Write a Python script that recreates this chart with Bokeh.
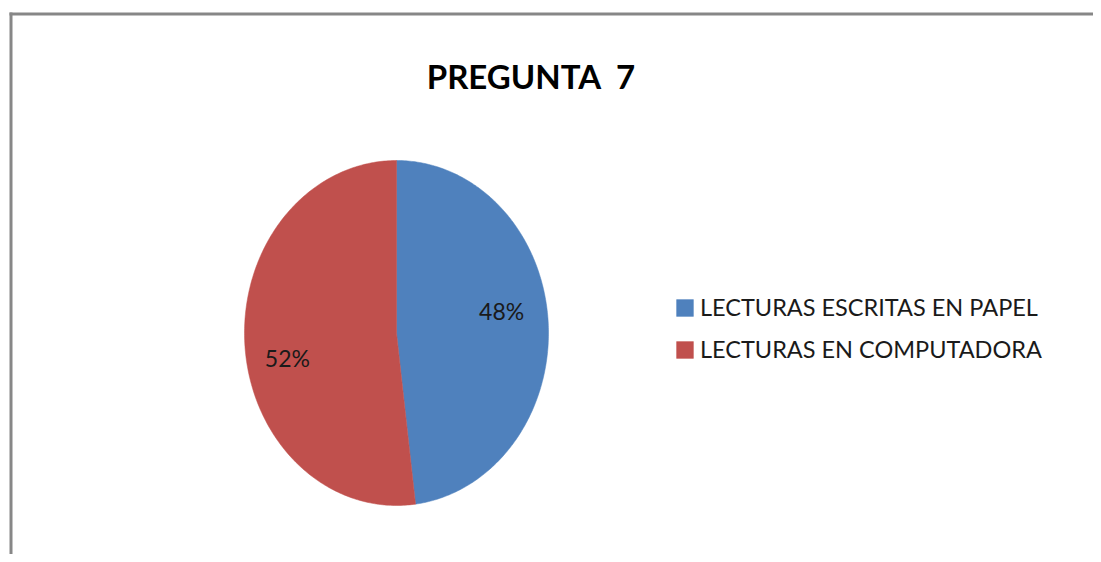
import numpy as np
from bokeh.plotting import figure
from bokeh.models import Range1d, Legend, LegendItem, Label, ColumnDataSource
from bokeh.embed import file_html
from bokeh.resources import INLINE
from bokeh.core.properties import value

# ---- data ----
chart_title = "PREGUNTA \u00a07"
categories = ["LECTURAS ESCRITAS EN PAPEL", "LECTURAS EN COMPUTADORA"]
shares = [48, 52]
slice_colors = ["#4F81BD", "#C0504D"]

# ---- layout / style ----
W, H = 1093, 554
CX, CY, RX, RY = 396, 332.5, 152, 172.5   # pie centre and radii (px)
LABEL_R = 0.68
LABEL_DY = [-15, 18]
LABEL_DX = [2, -6]

p = figure(width=W, height=H, output_backend="svg", toolbar_location=None,
           x_range=Range1d(0, W), y_range=Range1d(H, 0),
           x_axis_location=None, y_axis_location=None, min_border=0)
p.grid.visible = False
p.outline_line_color = None
p.background_fill_color = "white"

# chart frame (top and left edges)
p.line([9, 1110], [13.5, 13.5], line_color="#878787", line_width=3)
p.line([10.5, 10.5], [12, 570], line_color="#878787", line_width=3)

fracs = np.array(shares, dtype=float) / sum(shares)
ends = np.cumsum(fracs) * 2 * np.pi
starts = ends - fracs * 2 * np.pi
xs, ys = [], []
for a0, a1 in zip(starts, ends):
    t = np.linspace(a0, a1, 240)
    xs.append(np.concatenate([[CX], CX + RX * np.sin(t), [CX]]))
    ys.append(np.concatenate([[CY], CY - RY * np.cos(t), [CY]]))

items = []
for i, cat in enumerate(categories):
    src = ColumnDataSource(dict(xs=[xs[i]], ys=[ys[i]]))
    r = p.patches("xs", "ys", source=src, fill_color=slice_colors[i],
                  line_color=slice_colors[i], line_width=0.5)
    items.append(LegendItem(label=cat, renderers=[r]))

mids = (starts + ends) / 2
lx = CX + LABEL_R * RX * np.sin(mids) + np.array(LABEL_DX)
ly = CY - LABEL_R * RY * np.cos(mids) + np.array(LABEL_DY)
lab_src = ColumnDataSource(dict(x=lx, y=ly, t=[f"{s}%" for s in shares]))
p.text("x", "y", text="t", source=lab_src, text_font=value("Lato"),
       text_font_size="23px", text_color="#1a1a1a",
       text_align="center", text_baseline="middle")

p.add_layout(Label(x=531, y=75, text=chart_title, text_font="Lato",
                   text_font_style="bold", text_font_size="33px",
                   text_color="black", text_align="center",
                   text_baseline="middle"))

legend = Legend(items=items, location=(674, 191),
                glyph_width=21, glyph_height=21, label_height=21,
                label_standoff=5, spacing=14, padding=0, margin=0,
                label_text_font="Lato", label_text_font_size="23.5px",
                label_text_color="#1a1a1a",
                border_line_color=None, background_fill_alpha=0)
p.add_layout(legend)

open("out.html", "w").write(file_html(p, INLINE))
